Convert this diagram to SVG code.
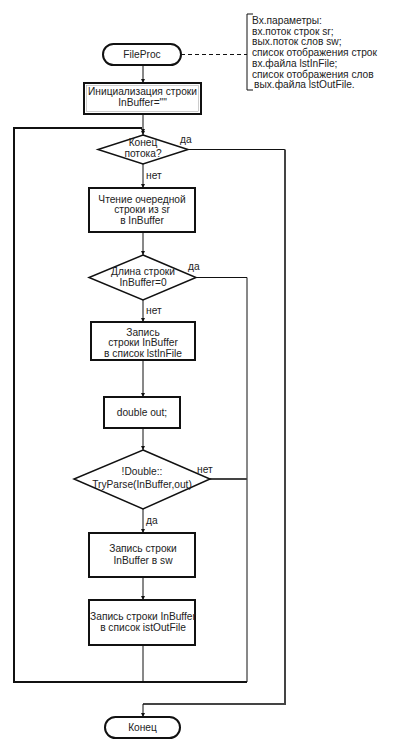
<svg xmlns="http://www.w3.org/2000/svg" width="405" height="754" viewBox="0 0 405 754">
<style>
text{font-family:"Liberation Sans",Arial,sans-serif;font-size:10.2px;fill:#222}
.c{text-anchor:middle}
.box{fill:#fff;stroke:#111;stroke-width:2}
.dec{fill:#fff;stroke:#111;stroke-width:1.5}
.term{fill:#fff;stroke:#111;stroke-width:2}
.ln{fill:none;stroke:#111;stroke-width:1}
.lnb{fill:none;stroke:#111;stroke-width:2}
.arr{marker-end:url(#ah)}
</style>
<defs>
<marker id="ah" markerUnits="userSpaceOnUse" markerWidth="5" markerHeight="5" refX="4" refY="2" orient="auto">
<path d="M0,0 L4,2 L0,4 z" fill="#111"/>
</marker>
</defs>
<rect width="405" height="754" fill="#fff"/>
<g id="connectors">
<line class="ln" x1="181" y1="54.5" x2="247" y2="54.5" stroke-dasharray="4,3"/>
<line class="ln arr" x1="143" y1="65" x2="143" y2="83"/>
<line class="ln arr" x1="143" y1="114" x2="143" y2="135"/>
<path class="lnb" d="M143,682 H14 V128 H142"/>
<path d="M141,129 L145,129 L143,133 z" fill="#111"/>
<path class="ln" d="M188,149.5 H285" />
<path d="M285,149.5 V704 H143" fill="none" stroke="#444" stroke-width="2"/>
<line class="ln arr" x1="143" y1="704" x2="143" y2="717"/>
<line class="ln arr" x1="143" y1="164" x2="143" y2="188"/>
<line class="ln arr" x1="143" y1="232" x2="143" y2="255"/>
<path class="ln" d="M196,277.5 H247 V682"/>
<path class="lnb" d="M142,682 H247"/>
<line class="ln arr" x1="143" y1="300" x2="143" y2="322"/>
<line class="ln arr" x1="143" y1="360" x2="143" y2="397"/>
<line class="ln arr" x1="143" y1="428" x2="143" y2="450"/>
<path d="M210,479 H247" fill="none" stroke="#444" stroke-width="2"/>
<line class="ln arr" x1="143" y1="509" x2="143" y2="533"/>
<line class="ln arr" x1="143" y1="577" x2="143" y2="600"/>
<line class="ln" x1="143" y1="645" x2="143" y2="682"/>
<text x="180" y="143">да</text>
<text x="146" y="179">нет</text>
<text x="188" y="270">да</text>
<text x="146" y="314">нет</text>
<text x="197" y="473">нет</text>
<text x="146" y="524">да</text>
</g>
<g id="comment">
<path class="ln" d="M253,14 H247 V90 H253"/>
<text x="252" y="24">Вх.параметры:</text>
<text x="252" y="34.7">вх.поток строк sr;</text>
<text x="252" y="45.4">вых.поток слов sw;</text>
<text x="252" y="56.1">список отображения строк</text>
<text x="252" y="66.8">вх.файла lstInFile;</text>
<text x="252" y="77.5">список отображения слов</text>
<text x="254" y="88.2">вых.файла lstOutFile.</text>
</g>
<g id="fileproc">
<rect class="term" x="103" y="44" width="78" height="21" rx="10.5"/>
<text class="c" x="142" y="58">FileProc</text>
</g>
<g id="init">
<rect class="box" x="84" y="83" width="117" height="31"/>
<rect x="86.5" y="85.5" width="112" height="26" fill="none" stroke="#999" stroke-width="0.5"/>
<text class="c" x="142.5" y="95">Инициализация строки</text>
<text class="c" x="142.5" y="106">InBuffer=""</text>
</g>
<g id="endofstream">
<polygon class="dec" points="143,135 188,149.5 143,164 98,149.5"/>
<text class="c" x="143" y="146">Конец</text>
<text class="c" x="143" y="157">потока?</text>
</g>
<g id="read">
<rect class="box" x="89" y="188" width="106" height="44"/>
<text class="c" x="142" y="202.5">Чтение очередной</text>
<text class="c" x="142" y="213.2">строки из sr</text>
<text class="c" x="142" y="223.9">в InBuffer</text>
</g>
<g id="lencheck">
<polygon class="dec" points="143,255 196,277.5 143,300 89,277.5"/>
<text class="c" x="143" y="275">Длина строки</text>
<text class="c" x="143" y="286">InBuffer=0</text>
</g>
<g id="addin">
<rect class="box" x="91" y="322" width="104" height="38"/>
<text class="c" x="143" y="335.5">Запись</text>
<text class="c" x="143" y="346.2">строки InBuffer</text>
<text class="c" x="143" y="356.9">в список lstInFile</text>
</g>
<g id="doubleout">
<rect class="box" x="104" y="397" width="76" height="31"/>
<text class="c" x="142" y="416">double out;</text>
</g>
<g id="tryparse">
<polygon class="dec" points="143,450 210,479 143,509 74,479"/>
<text class="c" x="142" y="475">!Double::</text>
<text class="c" x="142" y="487.5">TryParse(InBuffer,out)</text>
</g>
<g id="writesw">
<rect class="box" x="89" y="533" width="106" height="44"/>
<text class="c" x="143" y="552">Запись строки</text>
<text class="c" x="143" y="563.5">InBuffer в sw</text>
</g>
<g id="addout">
<rect class="box" x="89" y="600" width="106" height="45"/>
<text class="c" x="143" y="619.5">Запись строки InBuffer</text>
<text class="c" x="143" y="631">в список istOutFile</text>
</g>
<g id="end">
<rect class="term" x="105" y="717" width="75" height="21" rx="10.5"/>
<text class="c" x="142.5" y="731">Конец</text>
</g>
</svg>
